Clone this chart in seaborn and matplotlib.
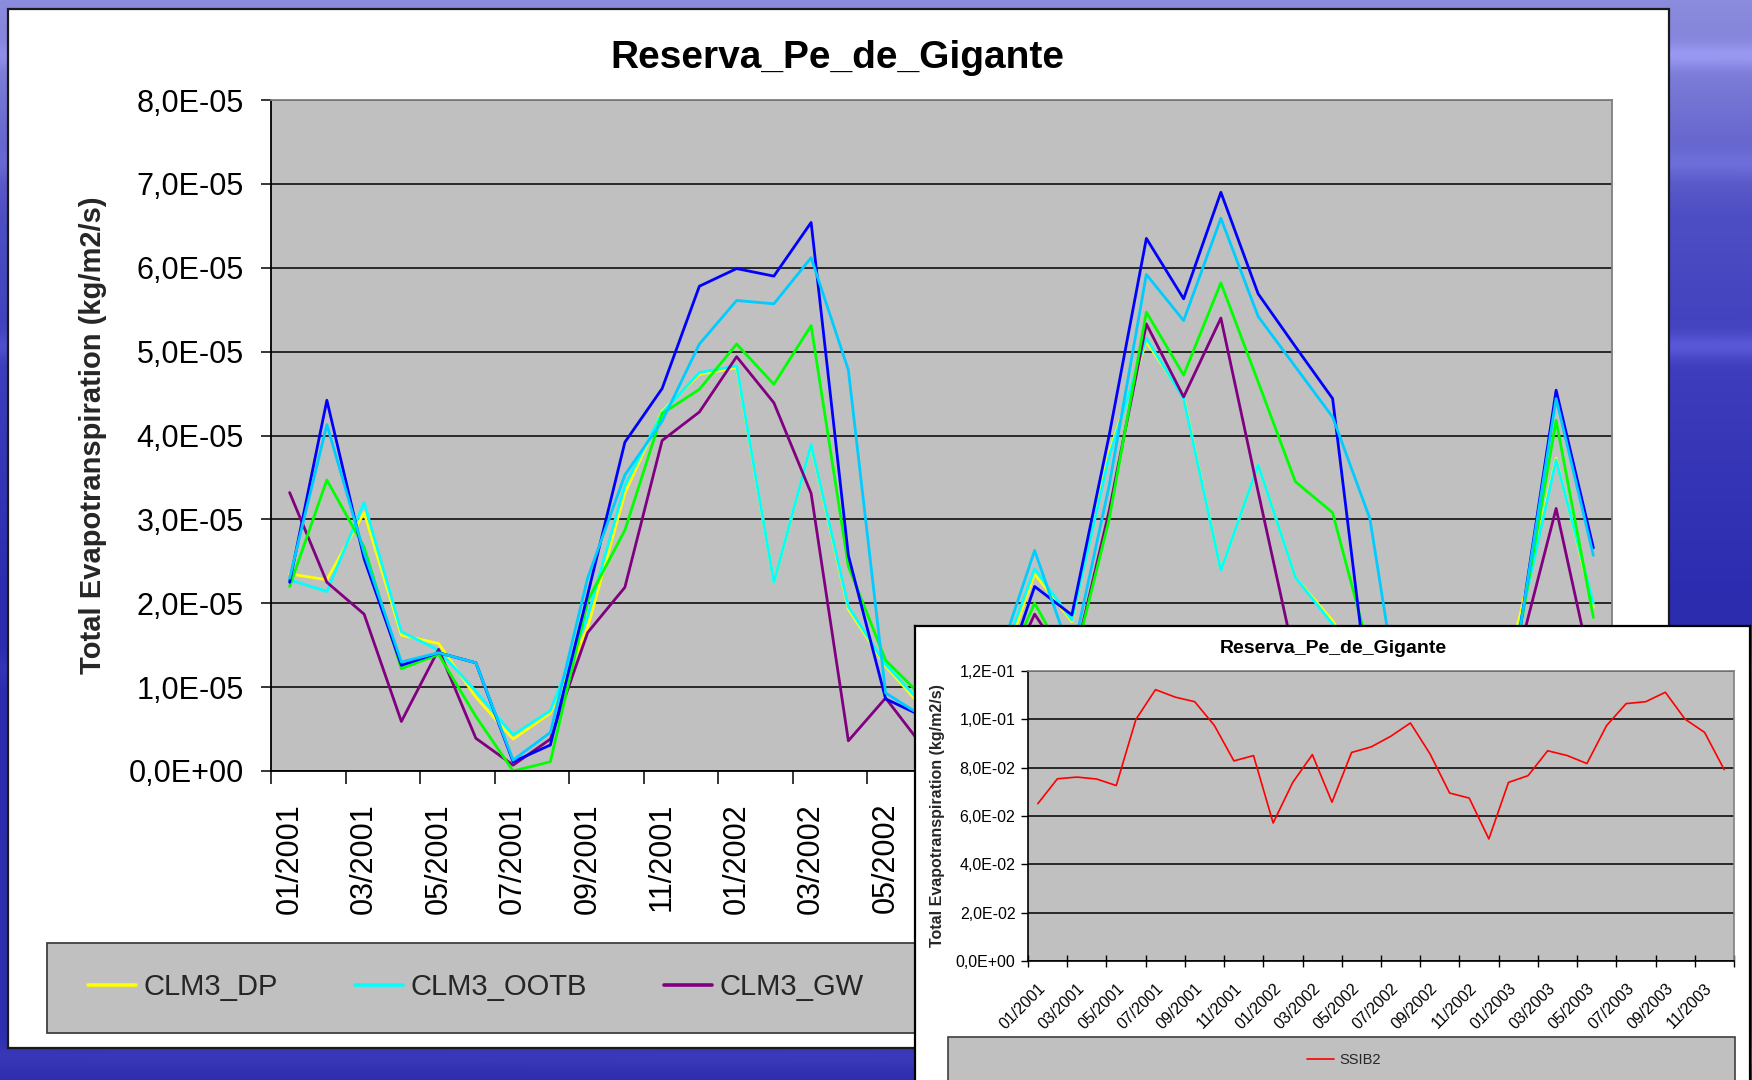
import numpy as np
import pandas as pd
import matplotlib
matplotlib.use("Agg")
import matplotlib.pyplot as plt
import matplotlib.transforms as mtransforms
import seaborn as sns
from matplotlib.lines import Line2D
from matplotlib.patches import Rectangle
from matplotlib.ticker import FuncFormatter

# meses (36 categorias, rótulo a cada 2)
months = [f"{m:02d}/{y}" for y in (2001, 2002, 2003) for m in range(1, 13)]

clm3_dp = [2.35, 2.28, 3.08, 1.62, 1.52, 0.88, 0.38, 0.69, 1.71, 3.31, 4.29, 4.73,
           4.81, 2.25, 3.88, 1.93, 1.25, 0.75, 0.60, 1.10, 2.35, 1.78, 3.80, 5.12,
           4.46, 2.39, 3.65, 2.31, 1.79, 1.10, 0.50, 0.30, 0.60, 1.80, 3.73, 1.95]
clm3_ootb = [2.28, 2.14, 3.20, 1.66, 1.44, 0.95, 0.43, 0.72, 1.84, 3.40, 4.27, 4.75,
             4.83, 2.25, 3.89, 1.96, 1.27, 0.79, 0.60, 1.20, 2.41, 1.80, 3.75, 5.16,
             4.44, 2.39, 3.65, 2.31, 1.75, 1.10, 0.50, 0.30, 0.60, 1.70, 3.71, 2.00]
clm3_gw = [3.32, 2.25, 1.87, 0.59, 1.45, 0.39, 0.07, 0.38, 1.65, 2.19, 3.94, 4.28,
           4.94, 4.39, 3.31, 0.36, 0.87, 0.29, 0.40, 0.90, 1.87, 1.20, 3.10, 5.33,
           4.46, 5.40, 3.33, 1.30, 0.80, 0.50, 0.20, 0.10, 0.30, 1.40, 3.13, 1.10]
green_vals = [2.20, 3.47, 2.67, 1.22, 1.39, 0.65, 0.00, 0.11, 2.03, 2.87, 4.26, 4.55,
              5.09, 4.61, 5.31, 2.44, 1.32, 0.88, 0.70, 1.00, 2.00, 1.20, 3.00, 5.47,
              4.72, 5.82, 4.64, 3.45, 3.08, 1.40, 0.60, 0.30, 0.60, 1.60, 4.18, 1.83]
blue_vals = [2.25, 4.42, 2.53, 1.26, 1.41, 1.29, 0.11, 0.31, 2.10, 3.92, 4.56, 5.78,
             5.99, 5.90, 6.54, 2.57, 0.86, 0.65, 0.50, 0.90, 2.20, 1.86, 4.00, 6.35,
             5.63, 6.90, 5.69, 5.06, 4.44, 0.80, 0.40, 0.30, 0.50, 1.60, 4.54, 2.66]
skyblue_vals = [2.30, 4.13, 2.60, 1.30, 1.41, 1.29, 0.13, 0.46, 2.30, 3.53, 4.17, 5.09,
                5.61, 5.57, 6.12, 4.78, 0.93, 0.65, 0.60, 1.30, 2.63, 1.35, 3.40, 5.92,
                5.37, 6.59, 5.42, 4.82, 4.22, 3.01, 0.20, 0.20, 0.50, 1.60, 4.44, 2.57]

# SSIB2 (gráfico menor)
ssib2 = [0.0651, 0.0754, 0.0761, 0.0753, 0.0726, 0.0999, 0.1123, 0.1092, 0.1073, 0.0975,
         0.0828, 0.0850, 0.0571, 0.0739, 0.0854, 0.0657, 0.0863, 0.0886, 0.0930, 0.0985,
         0.0857, 0.0695, 0.0674, 0.0505, 0.0739, 0.0767, 0.0870, 0.0850, 0.0817, 0.0974,
         0.1065, 0.1073, 0.1112, 0.1001, 0.0946, 0.0792]

series_names = ["CLM3_DP", "CLM3_OOTB", "CLM3_GW", "verde", "azul", "azul_claro"]
series_vals = [clm3_dp, clm3_ootb, clm3_gw, green_vals, blue_vals, skyblue_vals]
series_colors = ["#FFFF00", "#00FFFF", "#800080", "#00FF00", "#0000FF", "#00CCFF"]
legend_names = ["CLM3_DP", "CLM3_OOTB", "CLM3_GW"]

df_main = pd.DataFrame({
    "idx": np.tile(np.arange(len(months)), len(series_names)),
    "value": np.concatenate(series_vals) * 1e-5,
    "series": np.repeat(series_names, len(months)),
})
df_in = pd.DataFrame({"idx": np.arange(len(months)), "value": ssib2})

sns.set_theme(style="white")
plt.rcParams["font.family"] = ["Liberation Sans", "DejaVu Sans"]

W, H = 1752, 1080
fig = plt.figure(figsize=(W / 100, H / 100), dpi=100)


def box(x0, y0, x1, y1):
    return [x0 / W, 1 - y1 / H, (x1 - x0) / W, (y1 - y0) / H]


# fundo azul do slide
yy = np.linspace(0, 1, 270)[:, None]
xx = np.linspace(0, 1, 440)[None, :]
stops_y = [0.0, 0.08, 0.2, 0.35, 0.55, 1.0]
stops_c = np.array([[140, 140, 222], [120, 120, 214], [78, 78, 196],
                    [60, 60, 188], [44, 44, 176], [46, 46, 174]]) / 255
base = np.stack([np.interp(yy[:, 0], stops_y, stops_c[:, k]) for k in range(3)], axis=1)
grad = np.repeat(base[:, None, :], xx.shape[1], axis=1)
for yc, amp in [(0.05, 0.10), (0.15, 0.06), (0.32, 0.10), (0.62, 0.05), (0.98, 0.06)]:
    band = amp * np.exp(-((yy - yc) / 0.012) ** 2) * (0.6 + 0.4 * xx)
    grad = np.clip(grad + band[:, :, None], 0, 1)
ax_bg = fig.add_axes([0, 0, 1, 1], zorder=0)
ax_bg.imshow(grad, extent=(0, W, H, 0), aspect="auto", interpolation="bilinear")
ax_bg.set_xlim(0, W)
ax_bg.set_ylim(H, 0)
ax_bg.axis("off")
ax_bg.add_patch(Rectangle((8, 9), 1661, 1039, facecolor="white", edgecolor="#1a1a1a", lw=1.6))
ax_bg.add_patch(Rectangle((47, 943), 1612 - 47, 90, facecolor="#C0C0C0", edgecolor="#404040", lw=1.3))

fmt = FuncFormatter(lambda v, p: f"{v:.1E}".replace(".", ","))

# gráfico principal
ax = fig.add_axes(box(271, 100, 1612, 771), zorder=2)
ax.set_facecolor("#C0C0C0")
sns.lineplot(data=df_main, x="idx", y="value", hue="series", hue_order=series_names,
             palette=dict(zip(series_names, series_colors)), linewidth=2.0,
             legend=False, estimator=None, sort=False, ax=ax)
ax.set_xlim(-0.5, len(months) - 0.5)
ax.set_ylim(0, 8e-5)
ax.set_yticks(np.linspace(0, 8e-5, 9))
ax.yaxis.set_major_formatter(fmt)
# os rótulos a partir de 07/2002 ficam escondidos sob o gráfico menor
main_labels = [m if i < 18 else "" for i, m in enumerate(months)][::2]
ax.set_xticks(range(0, len(months), 2))
ax.set_xticklabels(main_labels, rotation=90, ha="center", va="top")
ax.set_xticks(np.arange(-0.5, len(months), 2), minor=True)
ax.tick_params(axis="x", which="major", length=0, pad=23, labelsize=22, colors="black")
ax.tick_params(axis="x", which="minor", length=9.5, width=1.1, direction="out",
               color="black", bottom=True)
ax.tick_params(axis="y", length=7.5, width=1.1, direction="out", pad=12,
               labelsize=22, colors="black", left=True)
ax.yaxis.grid(True, color="black", lw=1.1)
ax.xaxis.grid(False)
ax.set_axisbelow(True)
for side in ["left", "bottom"]:
    ax.spines[side].set_color("black")
    ax.spines[side].set_linewidth(1.3)
for side in ["top", "right"]:
    ax.spines[side].set_color("#808080")
    ax.spines[side].set_linewidth(1.3)
ax.set_xlabel("")
ax.set_ylabel("Total Evapotranspiration (kg/m2/s)", fontsize=21, fontweight="bold")
ax.yaxis.set_label_coords(-0.122, 0.5)

fig.text(837 / W, 1 - 68 / H, "Reserva_Pe_de_Gigante", ha="center", va="baseline",
         fontsize=28, fontweight="bold", color="black")

handles = [Line2D([], [], color=c, lw=2.6) for c in series_colors[:3]]
leg = fig.legend(handles, legend_names, loc="center left",
                 bbox_to_anchor=(88 / W, 1 - 987 / H), ncol=3, frameon=False,
                 fontsize=21, handlelength=1.64, handletextpad=0.27,
                 columnspacing=2.64, borderpad=0, borderaxespad=0)
leg.set_zorder(3)

# gráfico menor (SSIB2) sobreposto
ax_p = fig.add_axes(box(915, 626, 1750, 1090), zorder=5)
ax_p.set_xlim(915, 1750)
ax_p.set_ylim(1090, 626)
ax_p.set_facecolor("white")
ax_p.set_xticks([])
ax_p.set_yticks([])
for side in ax_p.spines:
    ax_p.spines[side].set_color("black")
    ax_p.spines[side].set_linewidth(1.6)
ax_p.add_patch(Rectangle((948, 1037), 1735 - 948, 70, facecolor="#C0C0C0",
                         edgecolor="#404040", lw=1.2))

ax2 = fig.add_axes(box(1028, 671, 1734, 961), zorder=6)
ax2.set_facecolor("#C0C0C0")
sns.lineplot(data=df_in, x="idx", y="value", color="#FF0000", linewidth=1.2, ax=ax2)
ax2.set_xlim(-0.5, len(months) - 0.5)
ax2.set_ylim(0, 0.12)
ax2.set_yticks(np.linspace(0, 0.12, 7))
ax2.yaxis.set_major_formatter(fmt)
ax2.set_xticks(range(0, len(months), 2))
ax2.set_xticklabels(months[::2], rotation=45, ha="right", va="top", rotation_mode="anchor")
shift = mtransforms.ScaledTranslation(-6 / 100, 0, fig.dpi_scale_trans)
for lab in ax2.get_xticklabels():
    lab.set_transform(lab.get_transform() + shift)
ax2.set_xticks(np.arange(-0.5, len(months), 2), minor=True)
ax2.tick_params(axis="x", which="major", length=0, pad=14, labelsize=11.5, colors="black")
ax2.tick_params(axis="x", which="minor", length=8, width=1.0, direction="inout",
                color="black", bottom=True)
ax2.tick_params(axis="y", length=5, width=1.0, direction="out", pad=4,
                labelsize=11.5, colors="black", left=True)
ax2.yaxis.grid(True, color="black", lw=1.1)
ax2.xaxis.grid(False)
ax2.set_axisbelow(True)
for side in ["left", "bottom"]:
    ax2.spines[side].set_color("black")
    ax2.spines[side].set_linewidth(1.2)
for side in ["top", "right"]:
    ax2.spines[side].set_color("#808080")
    ax2.spines[side].set_linewidth(1.2)
ax2.set_xlabel("")
ax2.set_ylabel("Total Evapotranspiration (kg/m2/s)", fontsize=11.5, fontweight="bold")
ax2.yaxis.set_label_coords(-0.118, 0.5)

fig.text(1333 / W, 1 - 653 / H, "Reserva_Pe_de_Gigante", ha="center", va="baseline",
         fontsize=14, fontweight="bold", color="black", zorder=7)
leg2 = fig.legend([Line2D([], [], color="#FF0000", lw=1.2)], ["SSIB2"], loc="center left",
                  bbox_to_anchor=(1307 / W, 1 - 1060 / H), frameon=False, fontsize=10.5,
                  handlelength=1.85, handletextpad=0.4, borderpad=0, borderaxespad=0)
leg2.set_zorder(7)

fig.savefig("out.png", dpi=100)
